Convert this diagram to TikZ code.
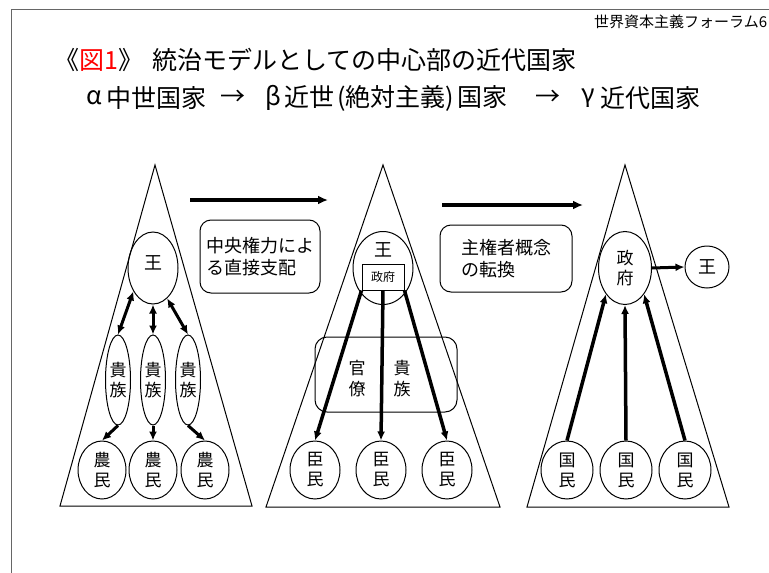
\documentclass[tikz,border=0pt]{standalone}
\usepackage{fontspec}
\setmainfont{Noto Sans CJK JP}
\usetikzlibrary{arrows.meta,shapes.geometric}
\begin{document}
\begin{tikzpicture}[x=1pt,y=-1pt,
  el/.style={draw, ellipse, inner sep=0pt, line width=1pt, align=center, font=\fontsize{17}{20}\selectfont},
  tri/.style={draw, line width=1pt, line join=miter},
  rbox/.style={draw, rounded corners=11pt, line width=1pt, inner sep=0pt, align=left, font=\fontsize{18}{21.5}\selectfont},
  txt/.style={inner sep=0pt, align=center},
  arr/.style={line width=3pt, -{Latex[length=9pt,width=8pt]}},
  darr/.style={line width=3pt, {Latex[length=9pt,width=8pt]}-{Latex[length=9pt,width=8pt]}},
  harr/.style={line width=3.5pt, -{Latex[length=10pt,width=9pt]}}
]
\useasboundingbox (0,0) rectangle (769,573);
% slide frame
\draw[black!60, line width=1pt] (11,573) -- (11,9) -- (769,9);
% header
\node[txt, anchor=west, font=\fontsize{15}{17}\selectfont] (hdr) at (594,22) {世界資本主義フォーラム6};
\node[txt, anchor=west, font=\fontsize{25}{28}\selectfont] (title) at (54,60) {《{\color{red}図1}》\hspace{9pt}統治モデルとしての中心部の近代国家};
\node[txt, font=\fontsize{25}{28}\selectfont] (ga) at (94,98) {α};
\node[txt, anchor=west, font=\fontsize{25}{28}\selectfont] (s1) at (106,98) {中世国家};
\node[txt, font=\fontsize{25}{28}\selectfont] (ar1) at (233,98) {→};
\node[txt, font=\fontsize{25}{28}\selectfont] (gb) at (273,98) {β};
\node[txt, anchor=west, font=\fontsize{25}{28}\selectfont] (s2) at (284,98) {近世\hspace{3pt}(絶対主義)\hspace{3pt}国家};
\node[txt, font=\fontsize{25}{28}\selectfont] (ar2) at (548,98) {→};
\node[txt, font=\fontsize{25}{28}\selectfont] (gc) at (588,98) {γ};
\node[txt, anchor=west, font=\fontsize{25}{28}\selectfont] (s3) at (600,98) {近代国家};

% triangles
\draw[tri] (155,165) -- (60,506) -- (252,506) -- cycle;
\draw[tri] (383,165) -- (266,507) -- (500,507) -- cycle;
\draw[tri] (625,165) -- (527,507) -- (729,507) -- cycle;

% transition arrows
\coordinate (h1a) at (190,200);
\coordinate (h1b) at (328,200);
\coordinate (h2a) at (442,205);
\coordinate (h2b) at (583,205);
\draw[harr] (h1a) -- (h1b);
\draw[harr] (h2a) -- (h2b);

% boxes
\node[rbox, minimum width=120pt, minimum height=73pt] (b1) at (260,256.5) {中央権力によ\\る直接支配};
\node[rbox, minimum width=132pt, minimum height=67pt] (b2) at (506,258.5) {主権者概念\\の転換};

% alpha: medieval
\node[el, minimum width=50pt, minimum height=72pt] (ou1) at (153,268) {};
\node[txt, font=\fontsize{18}{20}\selectfont] (ou1t) at (153,263) {王};
\node[el, minimum width=25pt, minimum height=90pt] (k1) at (118,380) {貴\\族};
\node[el, minimum width=25pt, minimum height=90pt] (k2) at (153,380) {貴\\族};
\node[el, minimum width=25pt, minimum height=90pt] (k3) at (188,380) {貴\\族};
\node[el, minimum width=48pt, minimum height=58pt] (n1) at (102,470) {農\\民};
\node[el, minimum width=48pt, minimum height=58pt] (n2) at (153,470) {農\\民};
\node[el, minimum width=48pt, minimum height=58pt] (n3) at (205,470) {農\\民};
\draw[darr] (ou1.230) -- (k1.north);
\draw[darr] (ou1.south) -- (k2.north);
\draw[darr] (ou1.295) -- (k3.north);
\draw[arr] (k1.south) -- (n1.north);
\draw[arr] (k2.south) -- (n2.north);
\draw[arr] (k3.south) -- (n3.north);

% beta: early modern
\node[el, minimum width=60pt, minimum height=73pt] (ou2) at (383,268) {};
\node[txt, font=\fontsize{18}{20}\selectfont] (ou2t) at (383,250) {王};
\node[draw, line width=1pt, minimum width=42pt, minimum height=26pt, inner sep=0pt, font=\fontsize{12}{14}\selectfont] (gov2) at (383,277) {政府};
\node[draw, rounded corners=12pt, line width=1pt, minimum width=142pt, minimum height=75pt] (kb) at (386,374.5) {};
\node[txt, font=\fontsize{17}{21}\selectfont] (kan) at (357,379) {官\\僚};
\node[txt, font=\fontsize{17}{21}\selectfont] (kiz) at (402,379) {貴\\族};
\node[el, minimum width=50pt, minimum height=58pt] (m1) at (315,470) {臣\\民};
\node[el, minimum width=50pt, minimum height=58pt] (m2) at (381,470) {臣\\民};
\node[el, minimum width=50pt, minimum height=58pt] (m3) at (447,470) {臣\\民};
\draw[arr, line width=3.5pt] (gov2.south west) -- (m1.north);
\draw[arr, line width=3.5pt] (gov2.south) -- (m2.north);
\draw[arr, line width=3.5pt] (gov2.south east) -- (m3.north);

% gamma: modern
\node[el, minimum width=53pt, minimum height=73pt] (gov3) at (625,268) {政\\府};
\node[el, minimum width=44pt, minimum height=42pt, font=\fontsize{18}{20}\selectfont] (ou3) at (707,267) {王};
\node[el, minimum width=52pt, minimum height=58pt] (c1) at (567,470) {国\\民};
\node[el, minimum width=52pt, minimum height=58pt] (c2) at (626,470) {国\\民};
\node[el, minimum width=52pt, minimum height=58pt] (c3) at (685,470) {国\\民};
\draw[arr, line width=3.5pt] (c1.north) -- (gov3.234);
\draw[arr, line width=3.5pt] (c2.north) -- (gov3.south);
\draw[arr, line width=3.5pt] (c3.north) -- (gov3.306);
\draw[arr] (gov3.east) -- (ou3.west);
\end{tikzpicture}
\end{document}
